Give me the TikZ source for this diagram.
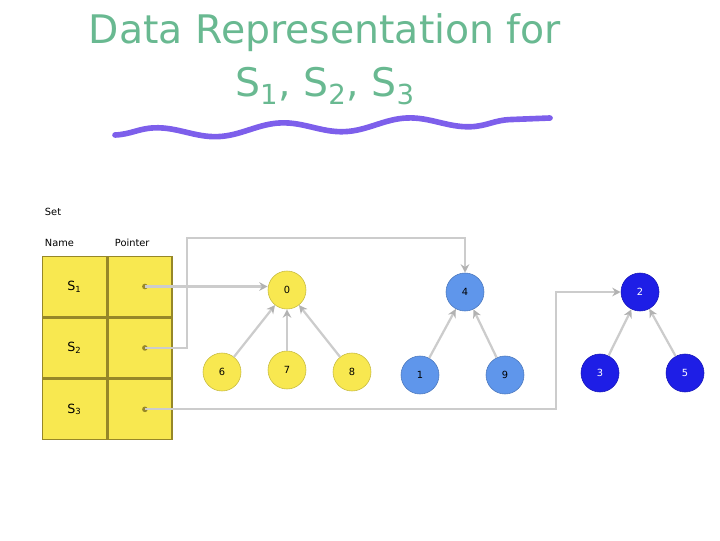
\documentclass[tikz,border=0pt]{standalone}
\usepackage{fontspec}
\setmainfont{DejaVu Sans}
\usetikzlibrary{arrows.meta, positioning, calc, decorations.pathmorphing}

\definecolor{titlegreen}{RGB}{105,185,145}
\definecolor{wavepurple}{RGB}{125,95,235}
\definecolor{cellyellow}{RGB}{248,232,80}
\definecolor{celledge}{RGB}{150,135,40}
\definecolor{lightblue}{RGB}{95,150,235}
\definecolor{deepblue}{RGB}{30,30,230}

\begin{document}
\begin{tikzpicture}[
  x=0.025cm, y=-0.025cm,
  cell/.style={rectangle, draw=celledge, line width=1pt, fill=cellyellow, minimum width=1.6cm, minimum height=1.5cm, inner sep=0pt, font=\small},
  treenode/.style={circle, minimum size=0.95cm, inner sep=0pt, font=\scriptsize},
  s1node/.style={treenode, fill=cellyellow, draw=cellyellow!80!black},
  s2node/.style={treenode, fill=lightblue, draw=lightblue!80!black},
  s3node/.style={treenode, fill=deepblue, draw=deepblue!80!black, text=white},
  link/.style={draw=gray!40, line width=1.6pt, -{Stealth[length=6pt, width=6pt, gray!60]}},
  label/.style={font=\scriptsize, anchor=west}
]
\useasboundingbox (0,0) rectangle (720,540);

% title
\node (title) at (325,33) [text=titlegreen, font=\fontsize{28}{32}\selectfont] {Data Representation for};
\node (subtitle) at (325,86) [text=titlegreen, font=\fontsize{28}{32}\selectfont] {S\textsubscript{1}, S\textsubscript{2}, S\textsubscript{3}};
\draw [wavepurple, line width=4pt, line cap=round, decorate, decoration={snake, amplitude=4pt, segment length=90pt}]
  (115,135) -- (550,118);

% table
\node [label] at (40,212) {Set};
\node [label] at (40,243) {Name};
\node [label] at (110,243) {Pointer};

\node (n1) [cell] at (74.5,286.5) {S\textsubscript{1}};
\node (n2) [cell, below=0pt of n1] {S\textsubscript{2}};
\node (n3) [cell, below=0pt of n2] {S\textsubscript{3}};
\node (p1) [cell, right=0pt of n1] {};
\node (p2) [cell, right=0pt of n2] {};
\node (p3) [cell, right=0pt of n3] {};

\coordinate (d1) at ($(p1.center)+(5,0)$);
\coordinate (d2) at ($(p2.center)+(5,0)$);
\coordinate (d3) at ($(p3.center)+(5,0)$);
\foreach \d in {d1,d2,d3}
  \fill [celledge] (\d) circle (2pt);

% set S1
\node (r1) [s1node] at (287,290) {0};
\node (a6) [s1node] at (222,372) {6};
\node (a7) [s1node] at (287,370) {7};
\node (a8) [s1node] at (352,372) {8};

% set S2
\node (r2) [s2node] at (465,292) {4};
\node (b1) [s2node] at (420,375) {1};
\node (b9) [s2node] at (505,375) {9};

% set S3
\node (r3) [s3node] at (640,292) {2};
\node (c3) [s3node] at (600,373) {3};
\node (c5) [s3node] at (685,373) {5};

\draw [link] (a6) -- (r1);
\draw [link] (a7) -- (r1);
\draw [link] (a8) -- (r1);
\draw [link] (b1) -- (r2);
\draw [link] (b9) -- (r2);
\draw [link] (c3) -- (r3);
\draw [link] (c5) -- (r3);

% pointers
\draw [link] (d1) -- (r1.west |- d1);
\draw [link] (d2) -| (187,238) -| (r2.north);
\draw [link] (d3) -| (556,292) -- (r3.west);

\end{tikzpicture}
\end{document}
